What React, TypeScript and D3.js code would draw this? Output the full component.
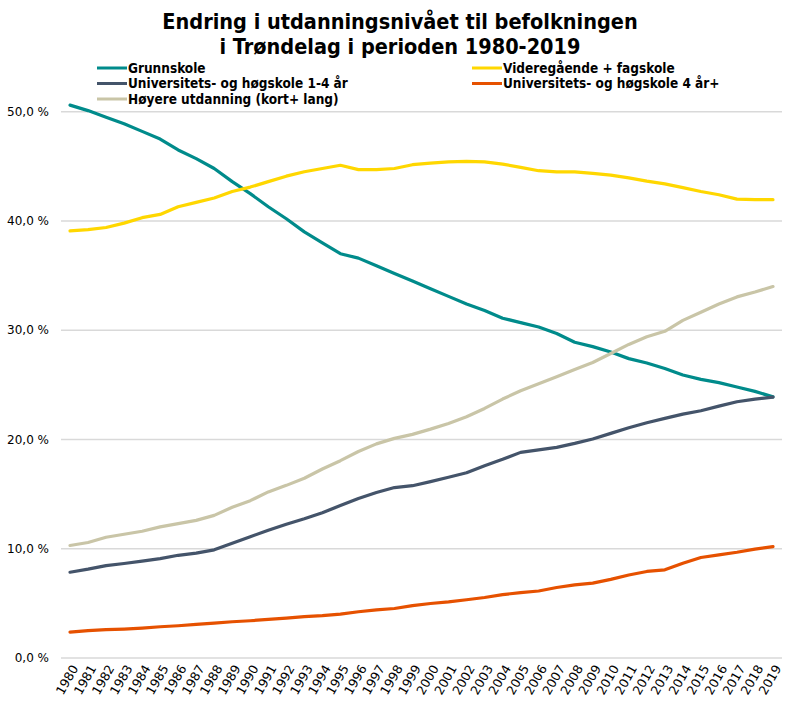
import React, { useEffect, useRef } from 'react';
import * as d3 from 'd3';

const years: string[] = d3.range(1980, 2020).map(String);

// Andel av befolkningen (%) etter høyeste utdanning
const grunnskole = [
  50.6, 50.1, 49.5, 48.9, 48.2, 47.5, 46.5, 45.7, 44.8, 43.6,
  42.5, 41.3, 40.2, 39.0, 38.0, 37.0, 36.6, 35.9, 35.2, 34.5,
  33.8, 33.1, 32.4, 31.8, 31.1, 30.7, 30.3, 29.7, 28.9, 28.5,
  28.0, 27.4, 27.0, 26.5, 25.9, 25.5, 25.2, 24.8, 24.4, 23.9,
];
const videregaende = [
  39.1, 39.2, 39.4, 39.8, 40.3, 40.6, 41.3, 41.7, 42.1, 42.7,
  43.1, 43.6, 44.1, 44.5, 44.8, 45.1, 44.7, 44.7, 44.8, 45.15,
  45.3, 45.4, 45.45, 45.4, 45.2, 44.9, 44.6, 44.5, 44.5, 44.35,
  44.2, 43.95, 43.65, 43.4, 43.05, 42.7, 42.4, 42.0, 41.95, 41.95,
];
const hogskoleKort = [
  7.85, 8.13, 8.46, 8.65, 8.86, 9.1, 9.4, 9.6, 9.9, 10.5,
  11.1, 11.7, 12.25, 12.75, 13.3, 13.95, 14.6, 15.14, 15.6, 15.77,
  16.14, 16.54, 16.96, 17.6, 18.18, 18.82, 19.05, 19.28, 19.64, 20.04,
  20.56, 21.07, 21.53, 21.93, 22.32, 22.63, 23.05, 23.45, 23.7, 23.88,
];
const hogskoleLang = [
  2.37, 2.5, 2.59, 2.65, 2.74, 2.86, 2.95, 3.07, 3.2, 3.32,
  3.41, 3.53, 3.65, 3.78, 3.87, 4.02, 4.23, 4.41, 4.53, 4.8,
  4.99, 5.14, 5.33, 5.54, 5.8, 5.99, 6.13, 6.45, 6.7, 6.85,
  7.2, 7.6, 7.92, 8.07, 8.68, 9.2, 9.44, 9.68, 9.96, 10.2,
];
const hoyereUtdanning = [
  10.3, 10.57, 11.05, 11.33, 11.6, 12.0, 12.3, 12.6, 13.05, 13.8,
  14.4, 15.2, 15.8, 16.45, 17.3, 18.06, 18.9, 19.6, 20.1, 20.47,
  20.95, 21.47, 22.08, 22.84, 23.7, 24.46, 25.1, 25.74, 26.4, 27.05,
  27.87, 28.7, 29.4, 29.9, 30.9, 31.65, 32.4, 33.05, 33.5, 34.0,
];
const yTicks = [0, 10, 20, 30, 40, 50];

const series = [
  { name: 'Grunnskole', values: grunnskole, color: '#008B8B', col: 0, row: 0 },
  { name: 'Videregående + fagskole', values: videregaende, color: '#FFD700', col: 1, row: 0 },
  { name: 'Universitets- og høgskole 1-4 år', values: hogskoleKort, color: '#44546A', col: 0, row: 1 },
  { name: 'Universitets- og høgskole 4 år+', values: hogskoleLang, color: '#E65100', col: 1, row: 1 },
  { name: 'Høyere utdanning (kort+ lang)', values: hoyereUtdanning, color: '#C9C5A7', col: 0, row: 2 },
];

const WIDTH = 799;
const HEIGHT = 714;
const boldFont = "'DejaVu Sans Condensed', 'DejaVu Sans', sans-serif";
const axisFont = "'DejaVu Sans', Verdana, sans-serif";

const App: React.FC = () => {
  const svgRef = useRef<SVGSVGElement>(null);

  useEffect(() => {
    if (!svgRef.current) return;
    const svg = d3.select(svgRef.current);
    svg.selectAll('*').remove();

    const x = d3.scaleBand<string>().domain(years).range([61, 782]);
    const y = d3.scaleLinear().domain([0, 50]).range([658, 111.7]);
    const cx = (yr: string) => (x(yr) ?? 0) + x.bandwidth() / 2;

    // gridlines
    svg.append('g')
      .selectAll('line')
      .data(yTicks)
      .enter().append('line')
      .attr('x1', 61)
      .attr('x2', 782)
      .attr('y1', d => y(d))
      .attr('y2', d => y(d))
      .style('stroke', '#d9d9d9')
      .style('stroke-width', 1.5);

    // y labels
    svg.append('g')
      .selectAll('text')
      .data(yTicks)
      .enter().append('text')
      .attr('x', 49)
      .attr('y', d => y(d))
      .attr('dy', '0.35em')
      .style('text-anchor', 'end')
      .style('font-family', axisFont)
      .style('font-size', '12px')
      .style('fill', '#000')
      .text(d => d.toFixed(1).replace('.', ',') + ' %');

    // x labels
    svg.append('g')
      .selectAll('text')
      .data(years)
      .enter().append('text')
      .attr('transform', d => `translate(${cx(d) + 5}, 666) rotate(-60)`)
      .attr('dy', '0.35em')
      .style('text-anchor', 'end')
      .style('font-family', axisFont)
      .style('font-size', '12.5px')
      .style('fill', '#000')
      .text(d => d);

    // lines
    const line = d3.line<number>()
      .x((_, i) => cx(years[i]))
      .y(d => y(d));

    svg.append('g')
      .selectAll('path')
      .data(series)
      .enter().append('path')
      .attr('d', d => line(d.values))
      .style('fill', 'none')
      .style('stroke', d => d.color)
      .style('stroke-width', 3.2)
      .style('stroke-linejoin', 'round')
      .style('stroke-linecap', 'round');

    // title
    const title = svg.append('text')
      .attr('x', 400)
      .style('text-anchor', 'middle')
      .style('font-family', boldFont)
      .style('font-weight', 'bold')
      .style('font-size', '21.5px')
      .style('fill', '#000');
    title.append('tspan').attr('x', 400).attr('y', 29).text('Endring i utdanningsnivået til befolkningen');
    title.append('tspan').attr('x', 400).attr('y', 54).text('i Trøndelag i perioden 1980-2019');

    // legend
    const legend = svg.append('g')
      .selectAll('g')
      .data(series)
      .enter().append('g')
      .attr('transform', d => `translate(${d.col === 0 ? 97 : 472}, ${68 + d.row * 15.5})`);

    legend.append('line')
      .attr('x1', 0)
      .attr('x2', 30)
      .style('stroke', d => d.color)
      .style('stroke-width', 3);

    legend.append('text')
      .attr('x', 31)
      .attr('dy', '0.35em')
      .style('font-family', boldFont)
      .style('font-weight', 'bold')
      .style('font-size', '13.5px')
      .style('fill', '#000')
      .text(d => d.name);
  }, []);

  return (
    <svg
      ref={svgRef}
      width={WIDTH}
      height={HEIGHT}
      style={{ position: 'absolute', left: 0, top: 0, background: '#fff' }}
    />
  );
};

export default App;
